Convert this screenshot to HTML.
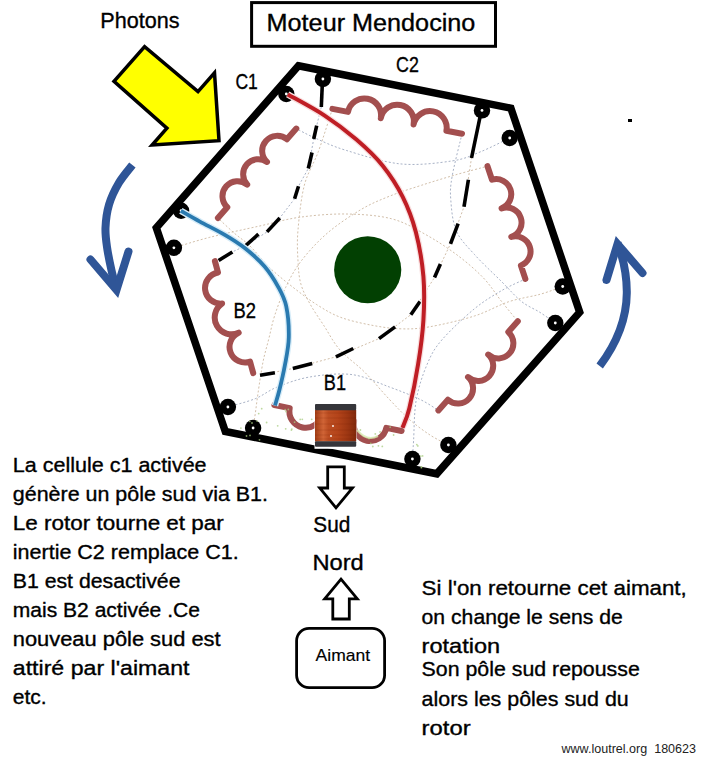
<!DOCTYPE html>
<html><head><meta charset="utf-8"><style>
html,body{margin:0;padding:0;background:#fff;}
svg{display:block;}
text{font-family:"Liberation Sans", sans-serif;stroke:#000;stroke-width:0.35px;}
</style></head><body>
<svg width="723" height="772" viewBox="0 0 723 772">
<defs>
<linearGradient id="cop" x1="0" x2="1" y1="0" y2="0">
<stop offset="0" stop-color="#a03c14"/><stop offset="0.2" stop-color="#d06436"/><stop offset="0.32" stop-color="#bc4e22"/><stop offset="0.55" stop-color="#b4441a"/><stop offset="0.8" stop-color="#9c3612"/><stop offset="1" stop-color="#80280c"/>
</linearGradient>
</defs>
<polygon points="144.6,46.7 114,81.4 166.9,128.1 152.1,145 219,140.7 214.5,72.8 198,91.6" fill="#ffff00" stroke="#000" stroke-width="3.5" stroke-linejoin="miter"/>
<rect x="251.6" y="2.6" width="243.9" height="43.7" fill="none" stroke="#000" stroke-width="3"/>
<g fill="none" stroke="#2f5597" stroke-width="8" stroke-linejoin="miter">
<path d="M132.4,165.0 C130.1,168.0 122.7,176.4 118.8,183.0 C114.9,189.6 111.3,197.0 109.1,204.4 C106.9,211.8 105.8,220.6 105.5,227.7 C105.2,234.8 106.0,239.9 107.0,247.0 C108.0,254.1 109.9,263.2 111.5,270.4 C113.1,277.6 115.7,286.7 116.5,290.0"/>
<path d="M599.7,366 C614,347 626.5,324 626.8,293 C627,271 622,255 617.5,243"/>
</g>
<g fill="none" stroke="#2f5597" stroke-width="8" stroke-linecap="round" stroke-linejoin="miter" stroke-miterlimit="10">
<path d="M90.5,259.5 L116.5,290 L128.5,251.5"/>
<path d="M606.5,280 L617.5,244 L642.5,273"/>
</g>
<rect x="628" y="119" width="4" height="3" fill="#000"/>
<g fill="none" stroke-width="1" stroke-dasharray="2 2">
<path d="M562.7,286.5 C558.9,287.8 549.0,291.8 540.0,294.3 C531.0,296.8 519.7,298.1 508.8,301.7 C497.9,305.3 487.7,311.8 474.4,316.0 C461.1,320.2 441.4,324.8 429.0,326.9 C416.6,329.0 409.8,329.1 400.0,328.8 C390.2,328.5 380.0,326.8 370.0,324.9 C360.0,322.9 348.9,320.5 340.0,317.1 C331.1,313.7 324.5,309.5 316.7,304.6 C308.9,299.7 301.1,293.6 293.3,287.5 C285.5,281.4 277.2,274.9 270.0,268.0 C262.8,261.1 255.9,251.8 250.0,246.0 C244.1,240.2 240.0,238.2 234.7,233.5 C229.3,228.8 220.7,220.6 217.9,218.0" stroke="#d2bfaa"/>
<path d="M332.4,108.9 C330.0,116.0 323.0,139.0 318.3,151.7 C313.6,164.4 307.8,171.9 304.4,185.0 C301.0,198.1 299.1,217.3 298.0,230.0 C296.9,242.7 297.5,251.9 298.0,261.0 C298.5,270.1 298.9,277.1 301.0,284.4 C303.1,291.7 306.5,297.6 310.4,304.6 C314.3,311.6 319.5,318.8 324.4,326.4 C329.3,334.0 333.3,342.4 340.0,350.0 C346.7,357.6 356.3,363.8 364.5,372.0 C372.7,380.2 381.9,391.5 389.4,399.4 C396.9,407.3 402.5,413.5 409.3,419.4 C416.1,425.3 423.5,430.7 430.0,435.0 C436.5,439.3 445.3,443.3 448.4,445.0" stroke="#d2bfaa"/>
<path d="M253.1,428.0 C253.5,425.3 254.7,417.8 255.5,412.0 C256.3,406.2 256.8,401.6 258.0,393.3 C259.2,385.0 261.2,371.1 263.0,362.0 C264.8,352.9 266.9,346.6 268.8,338.8 C270.8,331.1 271.9,324.1 274.7,315.5 C277.5,306.9 281.2,296.6 285.6,287.5 C290.0,278.4 294.1,270.2 301.1,261.1 C308.1,252.0 317.5,241.6 327.5,233.0 C337.5,224.4 350.5,215.8 360.9,209.6 C371.3,203.4 379.9,200.1 390.0,196.0 C400.1,191.9 410.9,188.7 421.7,185.2 C432.5,181.7 444.0,178.2 455.0,175.0 C466.0,171.8 482.1,167.7 487.5,166.2" stroke="#d2bfaa"/>
<path d="M173.9,247.8 C179.9,246.1 195.5,240.9 209.8,237.3 C224.1,233.7 244.7,229.3 259.6,226.0 C274.5,222.7 285.1,219.3 299.4,217.3 C313.7,215.3 330.3,213.8 345.6,214.0 C360.9,214.2 378.0,215.3 391.3,218.7 C404.6,222.1 414.6,228.4 425.4,234.4 C436.2,240.4 446.6,247.2 456.3,254.4 C466.0,261.6 475.8,270.0 483.4,277.9 C490.9,285.8 495.9,294.3 501.6,301.5 C507.3,308.7 515.1,318.0 517.8,321.3" stroke="#d2bfaa"/>
<path d="M509.7,138.0 C504.8,140.3 489.6,148.2 480.0,152.0 C470.4,155.8 465.5,158.9 452.2,160.9 C438.9,162.9 418.2,165.7 400.4,163.9 C382.6,162.1 359.8,154.5 345.6,150.2 C331.4,145.9 323.2,141.6 315.0,138.0 C306.8,134.4 299.4,130.2 296.3,128.6" stroke="#a8b2c6"/>
<path d="M462.0,133.8 C460.4,140.8 454.1,165.0 452.2,176.0 C450.3,187.0 450.1,190.9 450.8,200.0 C451.5,209.1 452.4,221.7 456.3,230.8 C460.2,239.9 466.8,245.9 474.4,254.4 C481.9,262.9 493.8,273.8 501.6,281.6 C509.5,289.5 515.1,296.4 521.5,301.5 C527.9,306.6 534.4,308.8 540.0,312.4 C545.6,316.0 552.8,321.2 555.3,323.0" stroke="#a8b2c6"/>
<path d="M412.4,459.0 C412.6,455.9 413.0,450.2 413.6,440.3 C414.2,430.4 414.0,412.2 416.3,399.5 C418.6,386.8 422.9,374.1 427.2,364.2 C431.4,354.3 433.9,349.2 441.8,340.0 C449.7,330.8 464.4,317.0 474.4,308.8 C484.4,300.6 493.1,295.6 501.6,290.6 C510.1,285.6 521.4,280.9 525.4,279.0" stroke="#a8b2c6"/>
<path d="M227.9,407.0 C232.4,405.6 247.0,402.0 255.2,398.7 C263.4,395.4 268.2,390.6 277.3,387.0 C286.4,383.4 297.2,379.1 309.7,377.0 C322.1,374.9 338.7,372.9 352.0,374.6 C365.3,376.3 378.1,382.9 389.4,387.0 C400.7,391.1 411.8,395.5 420.0,399.4 C428.2,403.3 435.3,408.6 438.4,410.4" stroke="#a8b2c6"/>
<path d="M322.9,79 L321.3,107 L316.7,125.6 L313.7,139 L308.3,168.5 L298.5,186.2 L294.6,198.7 L279.8,218 L267,231.9 L245.7,245.7 L232.4,251.9 L218.6,260.6" stroke="#a8b2c6"/>
<path d="M482,110.4 L471.5,158 L464,206.8 L450.5,243.8 L434.5,277.5 L410.8,314.7 L379,338.6 L335.9,356.8 L292.8,368.5 L260,375.2" stroke="#d2bfaa"/>
</g>
<polygon points="298.4,65.8 510.9,108.2 579.7,312.2 436.8,473.8 225.3,431.4 156.3,227.8" fill="none" stroke="#000" stroke-width="7.5" stroke-linejoin="miter"/>
<g fill="none" stroke="#000" stroke-width="3.6">
<line x1="322.5" y1="80" x2="321.3" y2="107"/>
<line x1="316.7" y1="125.6" x2="313.7" y2="139"/>
<line x1="312" y1="152.5" x2="308.3" y2="168.5"/>
<line x1="298.5" y1="186.2" x2="294.6" y2="198.7"/>
<line x1="279.8" y1="218" x2="267" y2="231.9"/>
<line x1="258.4" y1="234.2" x2="245.7" y2="245.7"/>
<line x1="232.4" y1="251.9" x2="218.6" y2="260.6"/>
<line x1="481.2" y1="111.4" x2="471.5" y2="158"/>
<line x1="468.4" y1="179.8" x2="464" y2="206.8"/>
<line x1="458.1" y1="223.6" x2="450.5" y2="243.8"/>
<line x1="440.4" y1="264" x2="434.5" y2="277.5"/>
<line x1="420" y1="301.5" x2="410.8" y2="314.7"/>
<line x1="395.1" y1="326.9" x2="379" y2="338.6"/>
<line x1="353.3" y1="348.5" x2="335.9" y2="356.8"/>
<line x1="312.2" y1="363.5" x2="292.8" y2="368.5"/>
<line x1="274.9" y1="372.7" x2="260" y2="375.2"/>
</g>
<circle cx="322.9" cy="79" r="8.2" fill="#000"/><circle cx="322.9" cy="79" r="1.4" fill="#fff"/>
<circle cx="286.3" cy="94" r="8.2" fill="#000"/><circle cx="286.3" cy="94" r="1.4" fill="#fff"/>
<circle cx="482" cy="110.4" r="8.2" fill="#000"/><circle cx="482" cy="110.4" r="1.4" fill="#fff"/>
<circle cx="509.7" cy="138" r="8.2" fill="#000"/><circle cx="509.7" cy="138" r="1.4" fill="#fff"/>
<circle cx="562.7" cy="286.5" r="8.2" fill="#000"/><circle cx="562.7" cy="286.5" r="1.4" fill="#fff"/>
<circle cx="555.3" cy="323" r="8.2" fill="#000"/><circle cx="555.3" cy="323" r="1.4" fill="#fff"/>
<circle cx="448.4" cy="445" r="8.2" fill="#000"/><circle cx="448.4" cy="445" r="1.4" fill="#fff"/>
<circle cx="412.4" cy="459" r="8.2" fill="#000"/><circle cx="412.4" cy="459" r="1.4" fill="#fff"/>
<circle cx="227.9" cy="407" r="8.2" fill="#000"/><circle cx="227.9" cy="407" r="1.4" fill="#fff"/>
<circle cx="253.1" cy="428" r="8.2" fill="#000"/><circle cx="253.1" cy="428" r="1.4" fill="#fff"/>
<circle cx="181.1" cy="210.7" r="8.2" fill="#000"/><circle cx="181.1" cy="210.7" r="1.4" fill="#fff"/>
<circle cx="173.9" cy="247.8" r="8.2" fill="#000"/><circle cx="173.9" cy="247.8" r="1.4" fill="#fff"/>
<g fill="none" stroke="#a34f4f" stroke-width="6" stroke-linecap="round" stroke-linejoin="round">
<path d="M332.4,108.9 L348.0,111.9 A16.7,16.7 0 0 1 380.8,118.2 A16.7,16.7 0 0 1 413.6,124.5 A16.7,16.7 0 0 1 446.4,130.8 L462.0,133.8"/>
<path d="M487.5,166.2 L492.0,179.7 A15.1,15.1 0 0 1 501.6,208.3 A15.1,15.1 0 0 1 511.3,236.9 A15.1,15.1 0 0 1 520.9,265.5 L525.4,279.0"/>
<path d="M517.8,321.3 L508.3,332.0 A15.1,15.1 0 0 1 488.2,354.6 A15.1,15.1 0 0 1 468.0,377.1 A15.1,15.1 0 0 1 447.9,399.7 L438.4,410.4"/>
<path d="M274.4,405.0 L289.7,408.1 A16.4,16.4 0 0 0 321.9,414.7 A16.4,16.4 0 0 0 354.1,421.3 A16.4,16.4 0 0 0 386.3,427.9 L401.6,431.0"/>
<path d="M296.3,128.6 L286.9,139.3 A15.1,15.1 0 0 0 267.0,162.0 A15.1,15.1 0 0 0 247.2,184.6 A15.1,15.1 0 0 0 227.3,207.3 L217.9,218.0"/>
<path d="M214.9,261.1 L218.0,272.5 A15.7,15.7 0 0 0 222.1,303.6 A16.8,16.8 0 0 0 238.7,332.7 A15.6,15.6 0 0 0 250.1,361.7 L253.2,373.1"/>
</g>
<path d="M287.7,94.4 C293.8,97.9 312.9,107.9 324.3,115.4 C335.8,122.9 346.6,131.2 356.4,139.6 C366.2,148.0 375.2,156.4 382.9,166.0 C390.6,175.6 397.2,185.9 402.7,196.9 C408.2,207.9 412.4,219.0 415.9,232.2 C419.3,245.4 422.1,261.5 423.4,276.2 C424.6,290.9 424.3,305.6 423.4,320.3 C422.5,335.0 420.5,349.6 418.1,364.3 C415.8,379.0 411.9,397.8 409.3,408.4 C406.7,419.0 403.6,424.6 402.5,427.8" fill="none" stroke="#f8dede" stroke-width="6.5"/>
<path d="M287.7,94.4 C293.8,97.9 312.9,107.9 324.3,115.4 C335.8,122.9 346.6,131.2 356.4,139.6 C366.2,148.0 375.2,156.4 382.9,166.0 C390.6,175.6 397.2,185.9 402.7,196.9 C408.2,207.9 412.4,219.0 415.9,232.2 C419.3,245.4 422.1,261.5 423.4,276.2 C424.6,290.9 424.3,305.6 423.4,320.3 C422.5,335.0 420.5,349.6 418.1,364.3 C415.8,379.0 411.9,397.8 409.3,408.4 C406.7,419.0 403.6,424.6 402.5,427.8" fill="none" stroke="#bf1e25" stroke-width="4"/>
<path d="M180.8,210.8 C184.0,212.6 192.6,217.6 199.9,221.6 C207.2,225.6 217.3,230.5 224.8,234.9 C232.3,239.3 238.1,242.8 244.7,248.1 C251.3,253.3 259.1,260.0 264.6,266.4 C270.1,272.8 274.3,279.7 277.9,286.3 C281.5,292.9 284.4,297.7 286.2,306.2 C288.0,314.7 289.0,327.6 288.8,337.3 C288.6,347.1 286.6,355.9 285.0,364.7 C283.4,373.5 281.1,383.2 279.4,390.0 C277.7,396.8 275.7,403.0 275.0,405.6" fill="none" stroke="#d6ecf8" stroke-width="6.5"/>
<path d="M180.8,210.8 C184.0,212.6 192.6,217.6 199.9,221.6 C207.2,225.6 217.3,230.5 224.8,234.9 C232.3,239.3 238.1,242.8 244.7,248.1 C251.3,253.3 259.1,260.0 264.6,266.4 C270.1,272.8 274.3,279.7 277.9,286.3 C281.5,292.9 284.4,297.7 286.2,306.2 C288.0,314.7 289.0,327.6 288.8,337.3 C288.6,347.1 286.6,355.9 285.0,364.7 C283.4,373.5 281.1,383.2 279.4,390.0 C277.7,396.8 275.7,403.0 275.0,405.6" fill="none" stroke="#2a7ab0" stroke-width="3.8"/>
<circle cx="257.1" cy="421.1" r="0.9" fill="#a8cc80" opacity="0.75"/>
<circle cx="266.6" cy="422.5" r="0.9" fill="#a8cc80" opacity="0.75"/>
<circle cx="285.1" cy="409.6" r="0.9" fill="#a8cc80" opacity="0.75"/>
<circle cx="240.9" cy="428.1" r="0.9" fill="#a8cc80" opacity="0.75"/>
<circle cx="258.7" cy="413.6" r="0.9" fill="#a8cc80" opacity="0.75"/>
<circle cx="311.7" cy="419.3" r="0.9" fill="#a8cc80" opacity="0.75"/>
<circle cx="300.2" cy="419.4" r="0.9" fill="#a8cc80" opacity="0.75"/>
<circle cx="286.0" cy="411.6" r="0.9" fill="#a8cc80" opacity="0.75"/>
<circle cx="285.7" cy="428.8" r="0.9" fill="#a8cc80" opacity="0.75"/>
<circle cx="277.7" cy="425.8" r="0.9" fill="#a8cc80" opacity="0.75"/>
<circle cx="288.3" cy="409.5" r="0.9" fill="#a8cc80" opacity="0.75"/>
<circle cx="294.6" cy="422.2" r="0.9" fill="#a8cc80" opacity="0.75"/>
<circle cx="261.7" cy="408.7" r="0.9" fill="#a8cc80" opacity="0.75"/>
<circle cx="302.3" cy="419.3" r="0.9" fill="#a8cc80" opacity="0.75"/>
<circle cx="291.8" cy="429.1" r="0.9" fill="#a8cc80" opacity="0.75"/>
<circle cx="291.4" cy="430.1" r="0.9" fill="#a8cc80" opacity="0.75"/>
<circle cx="370.8" cy="443.4" r="0.9" fill="#a8cc80" opacity="0.75"/>
<circle cx="372.8" cy="446.5" r="0.9" fill="#a8cc80" opacity="0.75"/>
<circle cx="390.2" cy="427.2" r="0.9" fill="#a8cc80" opacity="0.75"/>
<circle cx="360.4" cy="430.0" r="0.9" fill="#a8cc80" opacity="0.75"/>
<circle cx="393.6" cy="435.0" r="0.9" fill="#a8cc80" opacity="0.75"/>
<circle cx="380.1" cy="431.9" r="0.9" fill="#a8cc80" opacity="0.75"/>
<circle cx="375.3" cy="433.9" r="0.9" fill="#a8cc80" opacity="0.75"/>
<circle cx="369.0" cy="438.5" r="0.9" fill="#a8cc80" opacity="0.75"/>
<circle cx="378.4" cy="445.8" r="0.9" fill="#a8cc80" opacity="0.75"/>
<circle cx="382.3" cy="446.4" r="0.9" fill="#a8cc80" opacity="0.75"/>
<circle cx="421.4" cy="467.7" r="0.9" fill="#a8cc80" opacity="0.75"/>
<circle cx="416.8" cy="444.6" r="0.9" fill="#a8cc80" opacity="0.75"/>
<circle cx="421.5" cy="467.0" r="0.9" fill="#a8cc80" opacity="0.75"/>
<circle cx="422.6" cy="455.9" r="0.9" fill="#a8cc80" opacity="0.75"/>
<circle cx="417.8" cy="445.9" r="0.9" fill="#a8cc80" opacity="0.75"/>
<circle cx="420.8" cy="456.1" r="0.9" fill="#a8cc80" opacity="0.75"/>
<circle cx="249.8" cy="421.3" r="0.9" fill="#a8cc80" opacity="0.75"/>
<circle cx="259.5" cy="439.8" r="0.9" fill="#a8cc80" opacity="0.75"/>
<circle cx="246.5" cy="436.0" r="0.9" fill="#a8cc80" opacity="0.75"/>
<circle cx="252.0" cy="423.0" r="0.9" fill="#a8cc80" opacity="0.75"/>
<circle cx="250.0" cy="435.4" r="0.9" fill="#a8cc80" opacity="0.75"/>
<path d="M357,430 Q367,442 378,436" fill="none" stroke="#d8ecb0" stroke-width="2" opacity="0.8"/>
<circle cx="367.7" cy="269.75" r="33.6" fill="#024002"/>
<rect x="314.5" y="403.5" width="42" height="45.3" fill="#fff"/>
<rect x="315" y="410" width="41.2" height="31.5" fill="url(#cop)"/>
<rect x="315" y="404" width="41.2" height="6.2" rx="1" fill="#35353a"/>
<rect x="315" y="441.2" width="41.2" height="5.5" rx="1" fill="#35353a"/>
<g stroke="#6a1800" stroke-width="0.6" opacity="0.25"><line x1="315" y1="413" x2="356" y2="413"/><line x1="315" y1="418" x2="356" y2="418"/><line x1="315" y1="424" x2="356" y2="424"/><line x1="315" y1="430" x2="356" y2="430"/><line x1="315" y1="435" x2="356" y2="435"/><line x1="315" y1="439" x2="356" y2="439"/></g>
<circle cx="333" cy="426" r="0.9" fill="#fff"/><circle cx="331" cy="436" r="0.9" fill="#fff"/>
<path d="M327.7,466.8 L344.3,466.8 L344.3,488 L352.5,488 L336,507.8 L319.7,488 L327.7,488 Z" fill="#fff" stroke="#000" stroke-width="2.8" stroke-linejoin="miter"/>
<path d="M341,579.2 L357.3,598.8 L349.3,598.8 L349.3,619 L332.8,619 L332.8,598.8 L324.7,598.8 Z" fill="#fff" stroke="#000" stroke-width="2.8" stroke-linejoin="miter"/>
<rect x="296.6" y="628.3" width="88" height="59.4" rx="12.5" fill="none" stroke="#000" stroke-width="2.8"/>
<text x="100.3" y="28.4" font-size="21.5" textLength="79.2" lengthAdjust="spacingAndGlyphs" fill="#000">Photons</text>
<text x="266.6" y="31.4" font-size="24.2" textLength="208.8" lengthAdjust="spacingAndGlyphs" fill="#000">Moteur Mendocino</text>
<text x="235.4" y="88.9" font-size="21.5" textLength="22.4" lengthAdjust="spacingAndGlyphs" fill="#000">C1</text>
<text x="396.1" y="71.6" font-size="21.5" textLength="22.8" lengthAdjust="spacingAndGlyphs" fill="#000">C2</text>
<text x="233.6" y="317.7" font-size="21.5" textLength="22.5" lengthAdjust="spacingAndGlyphs" fill="#000">B2</text>
<text x="323.8" y="389.7" font-size="21.5" textLength="22.2" lengthAdjust="spacingAndGlyphs" fill="#000">B1</text>
<text x="12.8" y="471.8" font-size="20.5" textLength="193.8" lengthAdjust="spacingAndGlyphs" fill="#000">La cellule c1 activée</text>
<text x="12.8" y="500.77" font-size="20.5" textLength="255.2" lengthAdjust="spacingAndGlyphs" fill="#000">génère un pôle sud via B1.</text>
<text x="12.8" y="529.74" font-size="20.5" textLength="211.0" lengthAdjust="spacingAndGlyphs" fill="#000">Le rotor tourne et par</text>
<text x="12.8" y="558.71" font-size="20.5" textLength="225.9" lengthAdjust="spacingAndGlyphs" fill="#000">inertie C2 remplace C1.</text>
<text x="12.8" y="587.6800000000001" font-size="20.5" textLength="167.7" lengthAdjust="spacingAndGlyphs" fill="#000">B1 est desactivée</text>
<text x="12.8" y="616.65" font-size="20.5" textLength="187.1" lengthAdjust="spacingAndGlyphs" fill="#000">mais B2 activée .Ce</text>
<text x="12.8" y="645.62" font-size="20.5" textLength="207.8" lengthAdjust="spacingAndGlyphs" fill="#000">nouveau pôle sud est</text>
<text x="12.8" y="674.59" font-size="20.5" textLength="176.7" lengthAdjust="spacingAndGlyphs" fill="#000">attiré par l'aimant</text>
<text x="12.8" y="703.56" font-size="20.5" textLength="33.9" lengthAdjust="spacingAndGlyphs" fill="#000">etc.</text>
<text x="313.3" y="531.6" font-size="21.8" textLength="37.0" lengthAdjust="spacingAndGlyphs" fill="#000">Sud</text>
<text x="312.4" y="569.5" font-size="21.8" textLength="51.3" lengthAdjust="spacingAndGlyphs" fill="#000">Nord</text>
<text x="315.6" y="660.6" font-size="16.4" textLength="54.5" lengthAdjust="spacingAndGlyphs" fill="#000" style="stroke-width:0.15px">Aimant</text>
<text x="421.6" y="595.3" font-size="20.8" textLength="265.2" lengthAdjust="spacingAndGlyphs" fill="#000">Si l'on retourne cet aimant,</text>
<text x="421.6" y="624.2" font-size="20.8" textLength="201.3" lengthAdjust="spacingAndGlyphs" fill="#000">on change le sens de</text>
<text x="421.6" y="652.8" font-size="20.8" textLength="78.6" lengthAdjust="spacingAndGlyphs" fill="#000">rotation</text>
<text x="421.6" y="676.4" font-size="20.8" textLength="218.2" lengthAdjust="spacingAndGlyphs" fill="#000">Son pôle sud repousse</text>
<text x="421.6" y="705.5" font-size="20.8" textLength="207.1" lengthAdjust="spacingAndGlyphs" fill="#000">alors les pôles sud du</text>
<text x="421.6" y="734.5" font-size="20.8" textLength="49.0" lengthAdjust="spacingAndGlyphs" fill="#000">rotor</text>
<text x="561.5" y="752.6" font-size="12.2" textLength="134.5" lengthAdjust="spacingAndGlyphs" fill="#222" style="stroke-width:0px">www.loutrel.org&#160;&#160;180623</text>
</svg>
</body></html>
